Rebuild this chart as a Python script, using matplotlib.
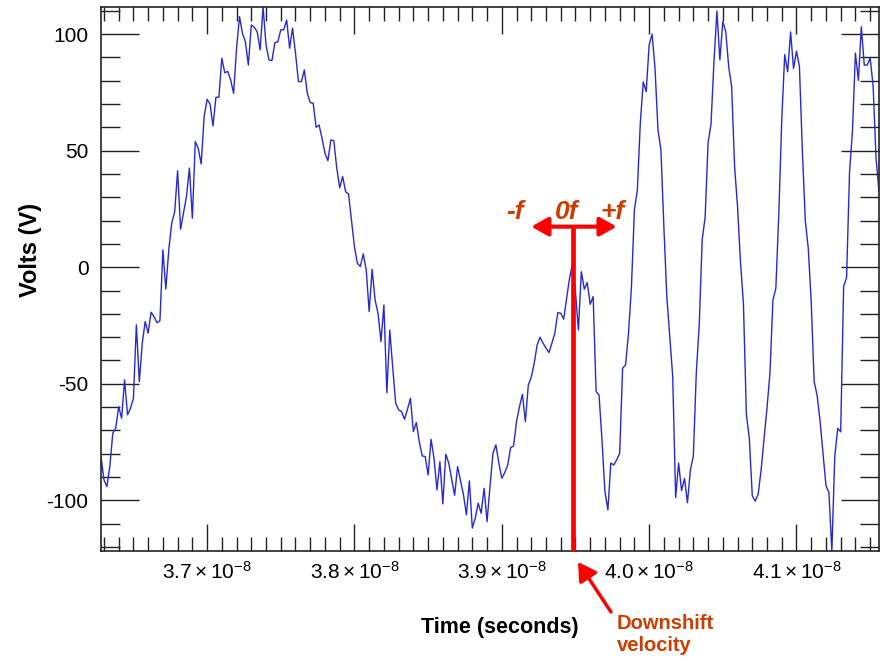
import numpy as np
import matplotlib
matplotlib.use('Agg')
import matplotlib.pyplot as plt
from matplotlib.ticker import MultipleLocator, FuncFormatter

plt.rcParams['font.family'] = ['Liberation Sans', 'DejaVu Sans']
plt.rcParams['mathtext.fontset'] = 'custom'
plt.rcParams['mathtext.rm'] = 'Liberation Sans'
plt.rcParams['mathtext.it'] = 'Liberation Sans:italic'
plt.rcParams['mathtext.bf'] = 'Liberation Sans:bold'
plt.rcParams['axes.unicode_minus'] = False

# scope record (50 GS/s), time base in ns
t_start_ns = 36.28
dt_ns = 0.02

# volts, one per sample
volts = [
    -81.2, -91.2, -94.1, -85.5, -71.2, -69.0, -59.8, -64.8, -48.3, -63.3,
    -60.5, -56.2, -24.7, -49.1, -32.6, -23.3, -28.3, -19.3, -21.2, -23.8,
    -22.9, 7.4, -9.4, 7.4, 18.9, 23.8, 41.4, 16.3, 23.2, 30.3,
    42.5, 21.0, 53.9, 51.0, 44.3, 64.6, 72.0, 70.0, 60.6, 72.9,
    72.9, 89.6, 83.4, 84.0, 80.3, 74.6, 93.9, 107.5, 100.3, 96.7,
    86.7, 103.9, 102.9, 101.0, 93.2, 111.6, 95.3, 88.9, 88.6, 96.3,
    96.7, 101.8, 101.8, 106.0, 93.9, 102.5, 91.8, 79.6,
    79.6, 84.6, 74.6, 70.6, 70.3, 60.0, 61.0, 55.3, 48.9, 45.7,
    54.6, 54.3, 42.5, 34.1, 38.9, 32.4, 31.4, 20.3, 8.8, 1.7,
    0.3, 5.7, -1.2, -19.0, -0.9, -14.0, -19.7, -31.9, -16.2, -53.8,
    -26.9, -43.3, -58.3, -61.2, -61.9, -65.2, -60.9, -56.2, -70.5, -66.6,
    -74.8, -80.9, -81.2, -89.1, -73.8, -81.9, -95.5, -83.4, -101.5, -80.2,
    -84.0, -90.9, -97.8, -85.5, -91.5, -97.6, -106.2, -91.6, -111.9, -107.6,
    -101.2, -105.5, -94.8, -109.1, -94.0,
    -79.8, -76.2, -84.0, -90.5, -88.1, -84.8, -77.4, -76.6, -66.2, -59.8,
    -54.5, -66.2, -50.5, -47.2, -41.2, -33.3, -30.0, -32.6, -34.7, -36.6,
    -32.6, -28.3, -19.5, -19.7, -22.3, -13.3, -4.7, 1.7, -10.5, -26.9,
    -1.9, -9.4, -6.6, -15.9, -12.6, -53.3, -54.8, -74.1, -96.2, -104.1,
    -84.0, -84.8, -82.6, -79.8, -43.3, -41.9, -28.3, -8.3, 24.6, 33.1,
    61.7, 79.5, 75.3, 95.3, 100.0, 85.3, 58.9, 50.3, 17.4, -12.6,
    -29.8, -46.9,
    -98.8, -84.0, -95.8, -90.6, -101.0, -86.9, -81.0, -45.4, -24.6, 11.8,
    21.4, 53.3, 61.5, 88.3, 109.9, 88.9, 105.3, 101.0, 86.0, 77.4,
    43.1, 25.9, 2.1, -15.7, -63.2, -73.5, -98.0, -100.3, -97.3, -86.9,
    -73.5, -60.2, -45.4, -14.2, -9.0, 22.9, 63.0, 91.2, 83.8, 100.9,
    85.2, 92.7, 86.0, 49.7, 19.9, 8.1, -15.0, -49.1, -55.0, -66.0,
    -80.0, -93.6, -96.6, -121.7, -81.0, -69.1, -70.6, -8.2, -4.5, 40.7,
    58.5, 91.9, 80.1, 103.1, 86.7, 86.7, 89.7, 77.8, 46.6, 32.6,
]

time_s = (t_start_ns + dt_ns * np.arange(len(volts))) * 1e-9
xticks_s = [3.7e-8, 3.8e-8, 3.9e-8, 4.0e-8, 4.1e-8]

# annotation: downshift marker and +/- f arrow
t_marker = 39.48e-9
arrow_left = 39.20e-9
arrow_right = 39.78e-9
arrow_v = 17.4
freq_labels = ['-f', '0f', '+f']
freq_label_t = [39.09e-9, 39.44e-9, 39.75e-9]

annot_color = '#cc3d00'

fig = plt.figure(figsize=(8.82, 6.61), dpi=100)
ax = fig.add_axes([101 / 882, 110 / 661, 778 / 882, 544 / 661])

ax.plot(time_s, volts, color='#2828d2', lw=1.0)
ax.set_xlim(time_s[0], time_s[-1])
ymin, ymax = min(volts), max(volts)
ax.set_ylim(ymin, ymax)

ax.set_xticks(xticks_s)
ax.xaxis.set_minor_locator(MultipleLocator(1e-10))
ax.xaxis.set_major_formatter(FuncFormatter(lambda x, pos: r'$%.1f\times10^{-8}$' % (x * 1e8)))
ax.yaxis.set_major_locator(MultipleLocator(50))
ax.yaxis.set_minor_locator(MultipleLocator(10))

tick_col = '#222222'
ax.tick_params(axis='x', which='major', direction='in', length=19.5, width=1, top=True,
               pad=7, labelsize=15, color=tick_col)
ax.tick_params(axis='x', which='minor', direction='in', length=10, width=1, top=True, color=tick_col)
ax.tick_params(axis='y', which='major', direction='in', length=27.5, width=1, right=True,
               pad=9, labelsize=15, color=tick_col)
ax.tick_params(axis='y', which='minor', direction='in', length=13.7, width=1, right=True, color=tick_col)
for s in ax.spines.values():
    s.set_linewidth(1.2)
    s.set_color(tick_col)

# red marker line with double arrow
ax.plot([t_marker, t_marker], [arrow_v, ymin], color='red', lw=3.4, clip_on=False,
        solid_capstyle='butt', zorder=5)
ax.annotate('', xy=(arrow_left, arrow_v), xytext=(arrow_right, arrow_v),
            arrowprops=dict(arrowstyle='<|-|>,head_length=0.5,head_width=0.28', color='red',
                            lw=3, mutation_scale=20, shrinkA=0, shrinkB=0), zorder=6)
for lab, t in zip(freq_labels, freq_label_t):
    ax.text(t, 20.5, lab, ha='center', va='baseline', fontsize=19, fontweight='bold',
            fontstyle='italic', color=annot_color)

# pointer to the marker
ax.annotate('', xy=(578 / 882, 1 - 562 / 661), xycoords='figure fraction',
            xytext=(611 / 882, 1 - 612 / 661), textcoords='figure fraction',
            arrowprops=dict(arrowstyle='-|>,head_length=0.6,head_width=0.35', color='red',
                            lw=2.5, mutation_scale=18, shrinkA=0, shrinkB=0),
            annotation_clip=False)
fig.text(617 / 882, 1 - 614 / 661, 'Downshift\nvelocity', ha='left', va='top', fontsize=14.5,
         fontweight='bold', color=annot_color, linespacing=1.2)

fig.text(500 / 882, 1 - 628 / 661, 'Time (seconds)', ha='center', va='center', fontsize=15.5,
         fontweight='bold')
fig.text(30 / 882, 1 - 250 / 661, 'Volts (V)', ha='center', va='center', rotation=90,
         fontsize=17, fontweight='bold')

fig.savefig('out.png', dpi=100)
